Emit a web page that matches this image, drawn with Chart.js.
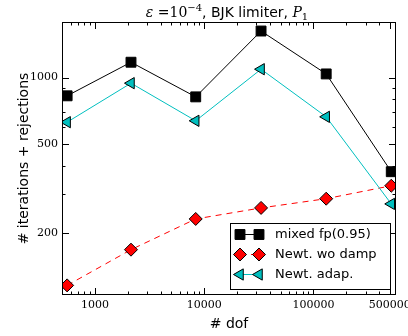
<!DOCTYPE html>
<html>
<head>
<meta charset="utf-8">
<script src="https://cdn.jsdelivr.net/npm/chart.js@4/dist/chart.umd.min.js"></script>
<style>
  html, body { margin: 0; padding: 0; background: #fff; }
  #wrap { width: 408px; height: 336px; }
</style>
</head>
<body>
<div id="wrap"><canvas id="chart" width="408" height="336"></canvas></div>
<script>
// Werte (log-log)
const dofs = [557, 2140, 8370, 33180, 130900, 516000];
const mixedFp = [828, 1173, 819, 1621, 1039, 377];
const newtWoDamp = [116, 168, 231, 259, 285, 326];
const newtAdap = [630, 944, 639, 1091, 666, 270];

const seriesNames = ['mixed fp(0.95)', 'Newt. wo damp', 'Newt. adap.'];

// Ticks
const xTickValues = [600, 700, 800, 900, 1000, 2000, 3000, 4000, 5000, 6000, 7000, 8000, 9000,
  10000, 20000, 30000, 40000, 50000, 60000, 70000, 80000, 90000,
  100000, 200000, 300000, 400000, 500000];
const xTickLabels = [1000, 10000, 100000, 500000];
const yTickValues = [200, 300, 400, 500, 600, 700, 800, 900, 1000];
const yTickLabels = [200, 500, 1000];

const serif = '"DejaVu Serif", serif';
const sans = '"DejaVu Sans", sans-serif';

function toPoints(ys) {
  return dofs.map((x, i) => ({ x: x, y: ys[i] }));
}

// Titel mit gemischten Schriften
const titlePlugin = {
  id: 'mixedTitle',
  afterDraw(chart) {
    const ctx = chart.ctx;
    const parts = [
      { t: 'ε', f: 'italic 14px ' + serif, dy: 0 },
      { t: ' =10', f: '14px ' + serif, dy: 0 },
      { t: '−4', f: '10px ' + serif, dy: -6 },
      { t: ', BJK limiter, ', f: '14px ' + sans, dy: 0 },
      { t: 'P', f: 'italic 14px ' + serif, dy: 0 },
      { t: '1', f: '10px ' + serif, dy: 3 }
    ];
    ctx.save();
    let total = 0;
    parts.forEach(p => { ctx.font = p.f; p.w = ctx.measureText(p.t).width; total += p.w; });
    let x = 227 - total / 2;
    const base = 17;
    ctx.fillStyle = '#000';
    ctx.textBaseline = 'alphabetic';
    parts.forEach(p => { ctx.font = p.f; ctx.fillText(p.t, x, base + p.dy); x += p.w; });
    ctx.restore();
  }
};

// Rahmen und nach innen zeigende Ticks
const frameTicksPlugin = {
  id: 'frameTicks',
  afterDatasetsDraw(chart) {
    const ctx = chart.ctx;
    const a = chart.chartArea;
    ctx.save();
    ctx.strokeStyle = '#000';
    ctx.lineWidth = 1;
    ctx.strokeRect(a.left + 0.5, a.top + 0.5, a.right - a.left - 1, a.bottom - a.top - 1);
    ctx.beginPath();
    const xs = chart.scales.x;
    xs.ticks.forEach(t => {
      const px = Math.round(xs.getPixelForValue(t.value)) + 0.5;
      const len = xTickLabels.includes(t.value) ? 7 : 3.5;
      ctx.moveTo(px, a.bottom); ctx.lineTo(px, a.bottom - len);
      ctx.moveTo(px, a.top); ctx.lineTo(px, a.top + len);
    });
    const ys = chart.scales.y;
    ys.ticks.forEach(t => {
      const py = Math.round(ys.getPixelForValue(t.value)) + 0.5;
      const len = yTickLabels.includes(t.value) ? 7 : 3.5;
      ctx.moveTo(a.left, py); ctx.lineTo(a.left + len, py);
      ctx.moveTo(a.right, py); ctx.lineTo(a.right - len, py);
    });
    ctx.stroke();
    ctx.restore();
  }
};

// Legende innerhalb der Zeichenfläche (unten rechts)
const innerLegendPlugin = {
  id: 'innerLegend',
  afterDraw(chart) {
    const ctx = chart.ctx;
    const box = { x: 230.5, y: 223.5, w: 160, h: 66 };
    ctx.save();
    ctx.fillStyle = '#fff';
    ctx.fillRect(box.x, box.y, box.w, box.h);
    ctx.strokeStyle = '#000';
    ctx.lineWidth = 1;
    ctx.strokeRect(box.x, box.y, box.w, box.h);
    chart.data.datasets.forEach((ds, i) => {
      const y = 234.5 + i * 20;
      const x1 = 240, x2 = 259;
      ctx.save();
      ctx.strokeStyle = ds.borderColor;
      ctx.lineWidth = ds.borderWidth;
      ctx.setLineDash(ds.borderDash || []);
      ctx.beginPath();
      ctx.moveTo(x1, y); ctx.lineTo(x2, y);
      ctx.stroke();
      ctx.restore();
      [x1, x2].forEach(px => {
        ctx.save();
        ctx.fillStyle = ds.pointBackgroundColor;
        ctx.strokeStyle = ds.pointBorderColor;
        ctx.lineWidth = ds.pointBorderWidth;
        Chart.helpers.drawPoint(ctx, {
          pointStyle: ds.pointStyle,
          rotation: ds.pointRotation || 0,
          radius: ds.pointRadius,
          borderWidth: ds.pointBorderWidth
        }, px, y);
        ctx.restore();
      });
      ctx.fillStyle = '#000';
      ctx.font = '13px ' + sans;
      ctx.textBaseline = 'middle';
      ctx.fillText(ds.label, 275, y);
    });
    ctx.restore();
  }
};

const ctx = document.getElementById('chart').getContext('2d');
new Chart(ctx, {
  type: 'line',
  data: {
    datasets: [
      {
        label: seriesNames[0],
        data: toPoints(mixedFp),
        borderColor: '#000000',
        borderWidth: 1,
        pointStyle: 'rect',
        pointRadius: 7,
        pointBackgroundColor: '#000000',
        pointBorderColor: '#000000',
        pointBorderWidth: 1,
        order: 3
      },
      {
        label: seriesNames[1],
        data: toPoints(newtWoDamp),
        borderColor: '#ff0000',
        borderWidth: 1,
        borderDash: [6, 5],
        pointStyle: 'rectRot',
        pointRadius: 6.5,
        pointBackgroundColor: '#ff0000',
        pointBorderColor: '#000000',
        pointBorderWidth: 1,
        order: 2
      },
      {
        label: seriesNames[2],
        data: toPoints(newtAdap),
        borderColor: '#00bfbf',
        borderWidth: 1,
        pointStyle: 'triangle',
        pointRotation: -90,
        pointRadius: 6.5,
        pointBackgroundColor: '#00bfbf',
        pointBorderColor: '#000000',
        pointBorderWidth: 1,
        order: 1
      }
    ]
  },
  options: {
    responsive: false,
    animation: false,
    devicePixelRatio: 1,
    layout: { padding: { top: 22, right: 12, left: 0, bottom: 0 } },
    plugins: {
      legend: { display: false },
      tooltip: { enabled: false },
      title: { display: false }
    },
    scales: {
      x: {
        type: 'logarithmic',
        min: 500,
        max: 570000,
        grid: { display: false, drawTicks: false },
        border: { display: false },
        ticks: {
          autoSkip: false,
          maxRotation: 0,
          padding: 4,
          color: '#000',
          font: { family: serif, size: 11 },
          callback: v => xTickLabels.includes(v) ? String(v) : ''
        },
        afterBuildTicks: s => { s.ticks = xTickValues.map(v => ({ value: v })); },
        afterFit: s => { s.height = 41; s.paddingLeft = 0; s.paddingRight = 0; },
        title: {
          display: true,
          text: '# dof',
          color: '#000',
          font: { family: sans, size: 14 },
          padding: { top: 0, bottom: 3 }
        }
      },
      y: {
        type: 'logarithmic',
        min: 105,
        max: 1780,
        grid: { display: false, drawTicks: false },
        border: { display: false },
        ticks: {
          autoSkip: false,
          padding: 4,
          color: '#000',
          font: { family: serif, size: 11 },
          callback: v => yTickLabels.includes(v) ? String(v) : ''
        },
        afterBuildTicks: s => { s.ticks = yTickValues.map(v => ({ value: v })); },
        afterFit: s => { s.width = 62; s.paddingTop = 0; s.paddingBottom = 0; },
        title: {
          display: true,
          text: '# iterations + rejections',
          color: '#000',
          font: { family: sans, size: 14 },
          padding: { top: 16, bottom: 0 }
        }
      }
    }
  },
  plugins: [frameTicksPlugin, titlePlugin, innerLegendPlugin]
});
</script>
</body>
</html>
